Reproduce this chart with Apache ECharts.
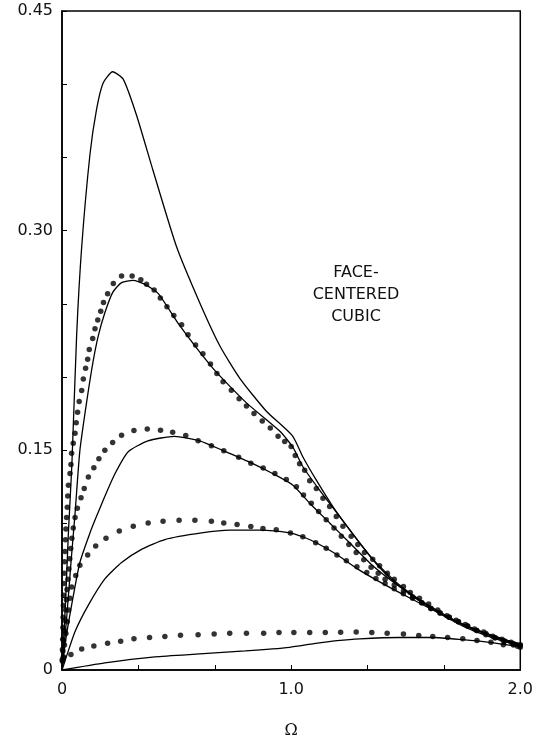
<!DOCTYPE html>
<html>
<head>
<meta charset="utf-8">
<title>Face-centered cubic</title>
<script src="https://cdn.jsdelivr.net/npm/echarts@6/dist/echarts.min.js"></script>
<style>
  html, body { margin: 0; padding: 0; background: #fff; }
  #chart { width: 536px; height: 744px; }
</style>
</head>
<body>
<div id="chart"></div>
<script>
// Axis ticks and labels
const xTickValues = [0, 1 / 3, 2 / 3, 1, 4 / 3, 5 / 3, 2];
const xLabelValues = [0, 1, 2];
const yLabelValues = [0, 0.15, 0.30, 0.45];

// Solid curves [Ω, value]
const solidA = [[0,0],[0.015,0.045],[0.028,0.094],[0.043,0.14],[0.064,0.229],[0.086,0.289],[0.122,0.352],[0.151,0.383],[0.180,0.401],[0.221,0.4085],[0.267,0.4035],[0.325,0.379],[0.398,0.3407],[0.50,0.289],[0.601,0.2508],[0.688,0.2216],[0.776,0.1992],[0.892,0.1767],[1.005,0.160],[1.052,0.1453],[1.110,0.1296],[1.182,0.1116],[1.255,0.0959],[1.356,0.0757],[1.473,0.058],[1.60,0.044],[1.75,0.031],[1.88,0.023],[2.0,0.018]];
const solidB = [[0,0],[0.02,0.035],[0.04,0.075],[0.057,0.107],[0.078,0.1498],[0.108,0.1834],[0.135,0.210],[0.158,0.228],[0.187,0.2439],[0.222,0.258],[0.26,0.2645],[0.31,0.266],[0.36,0.2635],[0.42,0.257],[0.514,0.2351],[0.659,0.206],[0.805,0.1824],[0.95,0.1632],[1.008,0.152],[1.052,0.1386],[1.124,0.1228],[1.211,0.1049],[1.298,0.0869],[1.386,0.070],[1.473,0.057],[1.6,0.043],[1.75,0.030],[1.88,0.022],[2.0,0.0165]];
const solidC = [[0,0],[0.013,0.0173],[0.042,0.0443],[0.078,0.0734],[0.122,0.0936],[0.144,0.1024],[0.187,0.1186],[0.231,0.134],[0.288,0.1489],[0.375,0.1565],[0.49,0.1595],[0.601,0.1565],[0.703,0.1498],[0.819,0.1419],[0.921,0.134],[1.008,0.1262],[1.081,0.1139],[1.168,0.1004],[1.255,0.0869],[1.356,0.0712],[1.473,0.057],[1.6,0.044],[1.75,0.031],[1.88,0.0235],[2.0,0.0175]];
const solidD = [[0,0],[0.02,0.0095],[0.057,0.0263],[0.115,0.0443],[0.187,0.0622],[0.260,0.0734],[0.347,0.0824],[0.449,0.0891],[0.609,0.0936],[0.732,0.0955],[0.863,0.0955],[0.994,0.0937],[1.05,0.091],[1.11,0.0869],[1.197,0.079],[1.291,0.0689],[1.40,0.059],[1.52,0.049],[1.65,0.0385],[1.8,0.028],[1.92,0.021],[2.0,0.0165]];
const solidE = [[0,0],[0.187,0.0049],[0.405,0.009],[0.601,0.011],[0.8,0.013],[0.994,0.0155],[1.1,0.018],[1.2,0.020],[1.30,0.0213],[1.473,0.0222],[1.618,0.0222],[1.749,0.0207],[1.865,0.0189],[2.0,0.016]];

// Dotted curves [Ω, value]
const dotsB = [[0.001,0.007],[0.002,0.014],[0.003,0.021],[0.004,0.029],[0.005,0.036],[0.006,0.044],[0.007,0.051],[0.008,0.059],[0.0095,0.066],[0.011,0.074],[0.013,0.081],[0.015,0.089],[0.017,0.0963],[0.020,0.1042],[0.023,0.1112],[0.025,0.1188],[0.028,0.1262],[0.035,0.1341],[0.039,0.1403],[0.042,0.148],[0.049,0.1549],[0.057,0.1617],[0.062,0.1688],[0.068,0.176],[0.075,0.1834],[0.086,0.1908],[0.093,0.1987],[0.103,0.2061],[0.112,0.2122],[0.119,0.2189],[0.134,0.2264],[0.144,0.233],[0.156,0.239],[0.169,0.245],[0.181,0.251],[0.199,0.257],[0.224,0.264],[0.260,0.269],[0.306,0.269],[0.344,0.2665],[0.369,0.2634],[0.402,0.2594],[0.429,0.254],[0.458,0.248],[0.488,0.242],[0.522,0.2358],[0.550,0.229],[0.583,0.222],[0.615,0.216],[0.648,0.209],[0.676,0.2025],[0.703,0.1969],[0.739,0.191],[0.773,0.1853],[0.805,0.1802],[0.838,0.1751],[0.874,0.1701],[0.909,0.1652],[0.943,0.1596],[0.972,0.156],[1.000,0.1526],[1.018,0.1465],[1.037,0.1409],[1.059,0.1364],[1.081,0.1292],[1.110,0.124],[1.139,0.1173],[1.168,0.1116],[1.197,0.1049],[1.226,0.0982],[1.262,0.0914],[1.291,0.0857],[1.320,0.0802],[1.356,0.0757],[1.386,0.0712],[1.42,0.066],[1.45,0.062],[1.49,0.057],[1.52,0.053],[1.56,0.049],[1.60,0.045],[1.64,0.041],[1.68,0.037],[1.72,0.034],[1.76,0.031],[1.80,0.028],[1.84,0.026],[1.88,0.023],[1.92,0.021],[1.96,0.019],[2.0,0.017]];
const dotsC = [[0.002,0.006],[0.004,0.013],[0.007,0.020],[0.010,0.027],[0.013,0.034],[0.016,0.041],[0.019,0.048],[0.022,0.055],[0.026,0.062],[0.030,0.069],[0.034,0.076],[0.038,0.083],[0.043,0.090],[0.049,0.097],[0.057,0.1042],[0.067,0.1105],[0.083,0.1177],[0.097,0.124],[0.115,0.1318],[0.139,0.1381],[0.161,0.1442],[0.187,0.150],[0.221,0.1554],[0.260,0.1603],[0.314,0.1635],[0.372,0.1646],[0.43,0.1637],[0.483,0.1624],[0.540,0.1601],[0.594,0.1565],[0.652,0.1531],[0.706,0.1498],[0.771,0.1453],[0.824,0.1412],[0.878,0.1379],[0.929,0.1341],[0.979,0.130],[1.023,0.1251],[1.054,0.1195],[1.088,0.1139],[1.120,0.1083],[1.153,0.1026],[1.187,0.097],[1.219,0.0914],[1.252,0.0857],[1.284,0.0802],[1.317,0.0753],[1.349,0.0701],[1.38,0.066],[1.41,0.062],[1.45,0.058],[1.49,0.054],[1.53,0.050],[1.57,0.046],[1.61,0.042],[1.65,0.039],[1.69,0.036],[1.73,0.033],[1.77,0.030],[1.81,0.027],[1.85,0.025],[1.89,0.022],[1.93,0.020],[1.97,0.018],[2.0,0.017]];
const dotsD = [[0.006,0.009],[0.011,0.017],[0.017,0.025],[0.023,0.033],[0.029,0.041],[0.035,0.049],[0.042,0.0566],[0.060,0.0645],[0.078,0.0716],[0.112,0.0786],[0.147,0.0847],[0.192,0.090],[0.250,0.095],[0.311,0.0982],[0.376,0.1004],[0.441,0.1015],[0.511,0.1022],[0.580,0.1022],[0.652,0.1015],[0.706,0.1004],[0.764,0.0993],[0.824,0.0980],[0.877,0.0966],[0.935,0.0957],[0.997,0.0936],[1.051,0.0910],[1.107,0.0869],[1.153,0.0831],[1.200,0.0786],[1.241,0.0746],[1.287,0.0705],[1.33,0.0665],[1.37,0.0625],[1.41,0.059],[1.45,0.0555],[1.49,0.052],[1.53,0.049],[1.57,0.046],[1.61,0.042],[1.65,0.039],[1.69,0.036],[1.73,0.033],[1.77,0.030],[1.81,0.027],[1.85,0.024],[1.89,0.022],[1.93,0.0195],[1.97,0.017],[2.0,0.0155]];
const dotsE = [[0.006,0.0083],[0.039,0.0106],[0.086,0.0143],[0.139,0.0164],[0.199,0.0182],[0.256,0.0197],[0.314,0.0213],[0.382,0.0222],[0.449,0.0229],[0.517,0.0238],[0.594,0.0240],[0.664,0.0245],[0.732,0.0251],[0.805,0.0251],[0.880,0.0251],[0.947,0.0256],[1.012,0.0256],[1.081,0.0256],[1.149,0.0256],[1.216,0.0258],[1.284,0.0260],[1.352,0.0256],[1.419,0.0251],[1.490,0.0245],[1.557,0.0236],[1.618,0.0229],[1.683,0.0222],[1.749,0.0213],[1.811,0.0202],[1.872,0.0189],[1.926,0.0173],[1.988,0.0162]];

const ink = '#000';
const labelFont = { color: '#111', fontFamily: 'DejaVu Sans', fontSize: 16 };

function solidSeries(data) {
  return {
    type: 'line', data: data, showSymbol: false, smooth: 0.2,
    lineStyle: { color: ink, width: 1.3 }, silent: true, z: 3
  };
}
function dotSeries(data) {
  return {
    type: 'scatter', data: data, symbol: 'circle', symbolSize: 5.5,
    itemStyle: { color: ink }, silent: true, z: 4
  };
}

const chart = echarts.init(document.getElementById('chart'), null, { renderer: 'canvas' });
chart.setOption({
  backgroundColor: '#fff',
  animation: false,
  grid: { left: 62, right: 15, top: 11, bottom: 65, show: true, borderColor: ink, borderWidth: 1.5, backgroundColor: 'transparent' },
  xAxis: {
    type: 'value', min: 0, max: 2, interval: 1,
    name: 'Ω', nameLocation: 'middle', nameGap: 53,
    nameTextStyle: { color: '#111', fontFamily: 'DejaVu Serif', fontSize: 16 },
    axisLine: { show: true, lineStyle: { color: ink, width: 1.5 } },
    axisTick: { show: true, inside: true, length: 5, customValues: xTickValues, lineStyle: { color: ink, width: 1 } },
    axisLabel: Object.assign({ margin: 12, customValues: xLabelValues,
      formatter: v => (Math.abs(v) < 1e-9 ? '0' : v.toFixed(1)) }, labelFont),
    splitLine: { show: false }
  },
  yAxis: {
    type: 'value', min: 0, max: 0.45, interval: 0.05,
    axisLine: { show: true, lineStyle: { color: ink, width: 1.5 } },
    axisTick: { show: true, inside: true, length: 5, lineStyle: { color: ink, width: 1 } },
    axisLabel: Object.assign({ margin: 9, customValues: yLabelValues,
      formatter: v => (Math.abs(v) < 1e-9 ? '0' : v.toFixed(2)) }, labelFont),
    splitLine: { show: false }
  },
  graphic: [{
    type: 'text', x: 356, y: 262,
    style: {
      text: 'FACE-\nCENTERED\nCUBIC', x: 0, y: 0, align: 'center',
      fill: '#111', font: '16px "DejaVu Sans"', lineHeight: 22
    }
  }],
  series: [
    solidSeries(solidA), solidSeries(solidB), solidSeries(solidC), solidSeries(solidD), solidSeries(solidE),
    dotSeries(dotsB), dotSeries(dotsC), dotSeries(dotsD), dotSeries(dotsE)
  ]
});
</script>
</body>
</html>
